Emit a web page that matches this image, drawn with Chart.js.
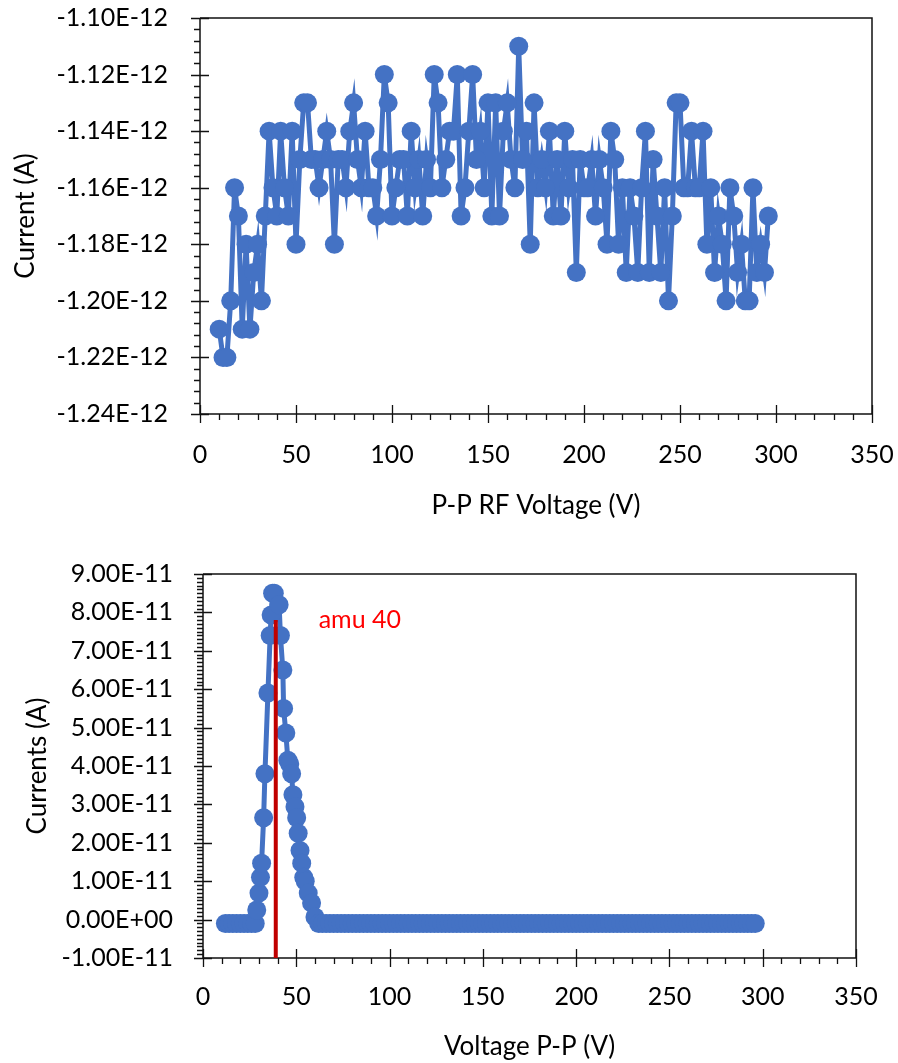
<!DOCTYPE html>
<html><head><meta charset="utf-8">
<script src="https://cdn.jsdelivr.net/npm/chart.js@4.4.1/dist/chart.umd.min.js"></script>
<style>
html,body{margin:0;padding:0;background:#fff;width:898px;height:1063px;overflow:hidden;}
#c1{position:absolute;left:0;top:0;}
#c2{position:absolute;left:0;top:530px;}
</style></head><body>
<canvas id="c1" width="898" height="530"></canvas>
<canvas id="c2" width="898" height="533"></canvas>
<script>
// ---------- Top chart data ----------
const topVoltage = [
 10,12,14,16,18,20,22,24,26,28,
 30,32,34,36,38,40,42,44,46,48,
 50,52,54,56,58,60,62,64,66,68,
 70,72,74,76,78,80,82,84,86,88,
 90,92,94,96,98,100,102,104,106,108,
 110,112,114,116,118,120,122,124,126,128,
 130,132,134,136,138,140,142,144,146,148,
 150,152,154,156,158,160,162,164,166,168,
 170,172,174,176,178,180,182,184,186,188,
 190,192,194,196,198,200,202,204,206,208,
 210,212,214,216,218,220,222,224,226,228,
 230,232,234,236,238,240,242,244,246,248,
 250,252,254,256,258,260,262,264,266,268,
 270,272,274,276,278,280,282,284,286,288,
 290,292,294,296];
const topCurrent = [
 -1.21e-12,-1.22e-12,-1.22e-12,-1.20e-12,-1.16e-12,-1.17e-12,-1.21e-12,-1.18e-12,-1.21e-12,-1.19e-12,
 -1.18e-12,-1.20e-12,-1.17e-12,-1.14e-12,-1.16e-12,-1.17e-12,-1.14e-12,-1.16e-12,-1.17e-12,-1.14e-12,
 -1.18e-12,-1.15e-12,-1.13e-12,-1.13e-12,-1.15e-12,-1.15e-12,-1.16e-12,-1.15e-12,-1.14e-12,-1.15e-12,
 -1.18e-12,-1.15e-12,-1.15e-12,-1.16e-12,-1.14e-12,-1.13e-12,-1.15e-12,-1.16e-12,-1.14e-12,-1.16e-12,
 -1.16e-12,-1.17e-12,-1.15e-12,-1.12e-12,-1.13e-12,-1.17e-12,-1.16e-12,-1.15e-12,-1.15e-12,-1.17e-12,
 -1.14e-12,-1.16e-12,-1.15e-12,-1.17e-12,-1.15e-12,-1.16e-12,-1.12e-12,-1.13e-12,-1.16e-12,-1.15e-12,
 -1.14e-12,-1.14e-12,-1.12e-12,-1.17e-12,-1.16e-12,-1.14e-12,-1.12e-12,-1.15e-12,-1.14e-12,-1.16e-12,
 -1.13e-12,-1.17e-12,-1.13e-12,-1.17e-12,-1.14e-12,-1.13e-12,-1.15e-12,-1.16e-12,-1.11e-12,-1.15e-12,
 -1.14e-12,-1.18e-12,-1.13e-12,-1.16e-12,-1.15e-12,-1.16e-12,-1.14e-12,-1.17e-12,-1.15e-12,-1.17e-12,
 -1.14e-12,-1.16e-12,-1.15e-12,-1.19e-12,-1.15e-12,-1.16e-12,-1.16e-12,-1.15e-12,-1.17e-12,-1.15e-12,
 -1.16e-12,-1.18e-12,-1.14e-12,-1.15e-12,-1.18e-12,-1.16e-12,-1.19e-12,-1.16e-12,-1.17e-12,-1.19e-12,
 -1.16e-12,-1.14e-12,-1.19e-12,-1.15e-12,-1.17e-12,-1.19e-12,-1.16e-12,-1.20e-12,-1.17e-12,-1.13e-12,
 -1.13e-12,-1.16e-12,-1.16e-12,-1.14e-12,-1.16e-12,-1.16e-12,-1.14e-12,-1.18e-12,-1.16e-12,-1.19e-12,
 -1.17e-12,-1.18e-12,-1.20e-12,-1.16e-12,-1.17e-12,-1.19e-12,-1.18e-12,-1.20e-12,-1.20e-12,-1.16e-12,
 -1.19e-12,-1.18e-12,-1.19e-12,-1.17e-12];
const topXTicks = [0,50,100,150,200,250,300,350];
const topYTicks = [-1.24e-12,-1.22e-12,-1.20e-12,-1.18e-12,-1.16e-12,-1.14e-12,-1.12e-12,-1.10e-12];

// ---------- Bottom chart data ----------
const botVoltage = [
 12,14,16,18,20,22,24,26,28,
 28.8,30.0,30.8,31.4,32.5,33.2,34.8,36.0,36.5,37.3,38.2,
 40.8,41.5,42.8,43.2,44.4,45.5,46.5,47.5,48.2,49.3,50.2,51.0,52.0,52.9,54.0,54.8,56.4,58.2,60.0,
 62,64,66,68,70,72,74,76,78,80,82,84,86,88,90,92,94,96,98,100,
 102,104,106,108,110,112,114,116,118,120,122,124,126,128,130,132,134,136,138,140,
 142,144,146,148,150,152,154,156,158,160,162,164,166,168,170,172,174,176,178,180,
 182,184,186,188,190,192,194,196,198,200,202,204,206,208,210,212,214,216,218,220,
 222,224,226,228,230,232,234,236,238,240,242,244,246,248,250,252,254,256,258,260,
 262,264,266,268,270,272,274,276,278,280,282,284,286,288,290,292,294,296];
const botCurrent = [
 -1.0e-12,-1.0e-12,-1.0e-12,-1.0e-12,-1.0e-12,-1.0e-12,-1.0e-12,-1.0e-12,-1.0e-12,
 2.5e-12,6.9e-12,1.10e-11,1.47e-11,2.65e-11,3.80e-11,5.90e-11,7.40e-11,7.93e-11,8.50e-11,8.50e-11,
 8.20e-11,7.40e-11,6.50e-11,5.50e-11,4.86e-11,4.15e-11,4.05e-11,3.80e-11,3.25e-11,2.94e-11,2.65e-11,2.25e-11,1.80e-11,1.47e-11,1.10e-11,1.00e-11,6.9e-12,4.3e-12,7.0e-13,
 -1.0e-12,-1.0e-12,-1.0e-12,-1.0e-12,-1.0e-12,-1.0e-12,-1.0e-12,-1.0e-12,-1.0e-12,-1.0e-12,-1.0e-12,-1.0e-12,-1.0e-12,-1.0e-12,-1.0e-12,-1.0e-12,-1.0e-12,-1.0e-12,-1.0e-12,-1.0e-12,
 -1.0e-12,-1.0e-12,-1.0e-12,-1.0e-12,-1.0e-12,-1.0e-12,-1.0e-12,-1.0e-12,-1.0e-12,-1.0e-12,-1.0e-12,-1.0e-12,-1.0e-12,-1.0e-12,-1.0e-12,-1.0e-12,-1.0e-12,-1.0e-12,-1.0e-12,-1.0e-12,
 -1.0e-12,-1.0e-12,-1.0e-12,-1.0e-12,-1.0e-12,-1.0e-12,-1.0e-12,-1.0e-12,-1.0e-12,-1.0e-12,-1.0e-12,-1.0e-12,-1.0e-12,-1.0e-12,-1.0e-12,-1.0e-12,-1.0e-12,-1.0e-12,-1.0e-12,-1.0e-12,
 -1.0e-12,-1.0e-12,-1.0e-12,-1.0e-12,-1.0e-12,-1.0e-12,-1.0e-12,-1.0e-12,-1.0e-12,-1.0e-12,-1.0e-12,-1.0e-12,-1.0e-12,-1.0e-12,-1.0e-12,-1.0e-12,-1.0e-12,-1.0e-12,-1.0e-12,-1.0e-12,
 -1.0e-12,-1.0e-12,-1.0e-12,-1.0e-12,-1.0e-12,-1.0e-12,-1.0e-12,-1.0e-12,-1.0e-12,-1.0e-12,-1.0e-12,-1.0e-12,-1.0e-12,-1.0e-12,-1.0e-12,-1.0e-12,-1.0e-12,-1.0e-12,-1.0e-12,-1.0e-12,
 -1.0e-12,-1.0e-12,-1.0e-12,-1.0e-12,-1.0e-12,-1.0e-12,-1.0e-12,-1.0e-12,-1.0e-12,-1.0e-12,-1.0e-12,-1.0e-12,-1.0e-12,-1.0e-12,-1.0e-12,-1.0e-12,-1.0e-12,-1.0e-12];
const botXTicks = [0,50,100,150,200,250,300,350];
const botYTicks = [-1e-11,0,1e-11,2e-11,3e-11,4e-11,5e-11,6e-11,7e-11,8e-11,9e-11];
const amuLineX = [39,39];
const amuLineY = [7.8e-11,-1e-11];
const amuLabel = 'amu 40';
const amuLabelPos = [62, 7.8e-11];

// ---------- helpers ----------
const BLUE = '#4472C4';
const FONT = 'Lato';
function sci(v){
  let s = Number(v).toExponential(2).toUpperCase();
  return s.replace(/E([+-])(\d)$/, 'E$10$2');
}
function pts(xs, ys){ return xs.map((x,i)=>({x:x, y:ys[i]})); }

const axesPlugin = {
  id:'axesDraw',
  beforeDatasetsDraw(chart, args, opts){
    const {ctx, chartArea:a, scales:{x,y}} = chart;
    ctx.save();
    ctx.strokeStyle = '#111';
    ctx.lineWidth = 1.5;
    ctx.beginPath();
    ctx.moveTo(a.left, a.top); ctx.lineTo(a.left, a.bottom); ctx.lineTo(a.right, a.bottom);
    if (opts.box){ ctx.lineTo(a.right, a.top); ctx.lineTo(a.left, a.top); }
    ctx.stroke();
    ctx.lineWidth = 1.3;
    ctx.beginPath();
    for (let v = x.min; v <= x.max + 1e-9; v += opts.xMinor){
      const px = Math.round(x.getPixelForValue(v)) + 0.5;
      const major = Math.abs(v/opts.xMajor - Math.round(v/opts.xMajor)) < 1e-6;
      if (major){ ctx.moveTo(px, a.bottom - 9); ctx.lineTo(px, a.bottom + 9); }
      else { ctx.moveTo(px, a.bottom); ctx.lineTo(px, a.bottom + 6); }
    }
    const nMaj = Math.round((y.max - y.min)/opts.yMajor);
    for (let i = 0; i <= nMaj * opts.ySub; i++){
      const v = y.min + i * opts.yMajor / opts.ySub;
      const py = Math.round(y.getPixelForValue(v)) + 0.5;
      if (i % opts.ySub === 0){ ctx.moveTo(a.left - 9, py); ctx.lineTo(a.left + 9, py); }
      else { ctx.moveTo(a.left - 6, py); ctx.lineTo(a.left, py); }
    }
    ctx.stroke();
    ctx.restore();
  },
  afterDatasetsDraw(chart, args, opts){
    if (!opts.label) return;
    const {ctx, scales:{x,y}} = chart;
    ctx.save();
    ctx.fillStyle = '#FF0000';
    ctx.font = '25px ' + FONT;
    ctx.textAlign = 'left';
    ctx.textBaseline = 'middle';
    ctx.fillText(opts.label, x.getPixelForValue(opts.labelPos[0]), y.getPixelForValue(opts.labelPos[1]));
    ctx.restore();
  }
};

function hiddenGrid(len){
  return { display:true, drawOnChartArea:false, drawTicks:true, tickLength:len, color:'rgba(0,0,0,0)', lineWidth:0 };
}

function makeScales(cfg){
  return {
    x: {
      type:'linear', min:0, max:350,
      afterBuildTicks: s => { s.ticks = cfg.xTicks.map(v=>({value:v})); },
      afterFit: s => { s.height = cfg.xHeight; },
      grid: hiddenGrid(cfg.xGap), border:{display:false},
      ticks:{ color:'#000', font:{family:FONT, size:25}, padding:0, maxRotation:0, autoSkip:false },
      title:{ display:true, text:cfg.xTitle, color:'#000', font:{family:FONT, size:26}, padding:{top:0, bottom:cfg.xTitlePad} }
    },
    y: {
      type:'linear', min:cfg.yTicks[0], max:cfg.yTicks[cfg.yTicks.length-1],
      afterBuildTicks: s => { s.ticks = cfg.yTicks.map(v=>({value:v})); },
      afterFit: s => { s.width = cfg.yWidth; },
      grid: hiddenGrid(cfg.yGap), border:{display:false},
      ticks:{ color:'#000', font:{family:FONT, size:25}, padding:0, autoSkip:false, callback: v => sci(v) },
      title:{ display:true, text:cfg.yTitle, color:'#000', font:{family:FONT, size:26}, padding:{top:cfg.yTitlePad, bottom:0} }
    }
  };
}

new Chart(document.getElementById('c1'), {
  type:'line',
  data:{ datasets:[{
    data: pts(topVoltage, topCurrent),
    borderColor: BLUE, backgroundColor: BLUE, borderWidth: 5,
    pointRadius: 9.5, pointBorderWidth: 0, pointBackgroundColor: BLUE,
    tension: 0, clip: false
  }]},
  options: {
    responsive:false, animation:false, devicePixelRatio:1, parsing:false,
    layout:{ padding:{ left:0, right:26, top:18, bottom:0 } },
    scales: makeScales({ xTicks:topXTicks, yTicks:topYTicks, xHeight:116, yWidth:200,
      xGap:26, yGap:32, xTitle:'P-P RF Voltage (V)', yTitle:'Current (A)', xTitlePad:9, yTitlePad:10 }),
    plugins:{ legend:{display:false}, tooltip:{enabled:false},
      axesDraw:{ box:true, xMajor:50, xMinor:10, yMajor:0.02e-12, ySub:5 } }
  },
  plugins:[axesPlugin]
});

new Chart(document.getElementById('c2'), {
  type:'line',
  data:{ datasets:[
    { data: pts(amuLineX, amuLineY), borderColor:'#C00000', borderWidth:4, pointRadius:0, clip:false, order:0 },
    { data: pts(botVoltage, botCurrent),
      borderColor: BLUE, backgroundColor: BLUE, borderWidth: 5,
      pointRadius: 9.5, pointBorderWidth: 0, pointBackgroundColor: BLUE,
      tension: 0, clip: false, order:1 }
  ]},
  options: {
    responsive:false, animation:false, devicePixelRatio:1, parsing:false,
    layout:{ padding:{ left:0, right:42, top:44, bottom:0 } },
    scales: makeScales({ xTicks:botXTicks, yTicks:botYTicks, xHeight:105, yWidth:203,
      xGap:24, yGap:30, xTitle:'Voltage P-P (V)', yTitle:'Currents (A)', xTitlePad:1, yTitlePad:22 }),
    plugins:{ legend:{display:false}, tooltip:{enabled:false},
      axesDraw:{ box:true, xMajor:50, xMinor:10, yMajor:1e-11, ySub:10, label:amuLabel, labelPos:amuLabelPos } }
  },
  plugins:[axesPlugin]
});
</script>
</body></html>
